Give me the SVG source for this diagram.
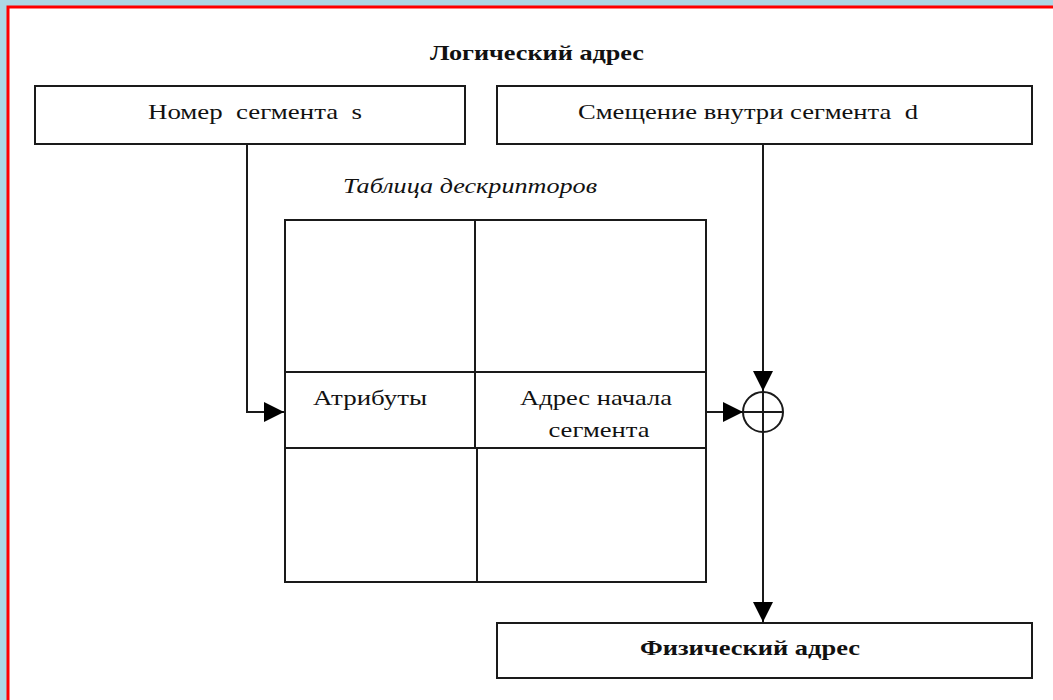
<svg xmlns="http://www.w3.org/2000/svg" width="1053" height="700" viewBox="0 0 1053 700">
  <style>
    .box { fill: #ffffff; stroke: #1a1a1a; stroke-width: 2; }
    .grid { fill: none; stroke: #1a1a1a; stroke-width: 2; }
    .wire { fill: none; stroke: #1a1a1a; stroke-width: 2; }
    .txt { font-family: "Liberation Serif", "Times New Roman", serif; font-size: 21px; fill: #111; }
    .big { font-size: 22px; }
    .bold { font-weight: bold; }
    .ital { font-style: italic; }
  </style>
  <defs>
    <marker id="arrow" viewBox="0 0 20 20" refX="20" refY="10" markerWidth="20" markerHeight="20" markerUnits="userSpaceOnUse" orient="auto">
      <path d="M0,0 L20,10 L0,20 Z" fill="#000"/>
    </marker>
  </defs>

  <!-- page frame -->
  <rect x="0" y="0" width="1053" height="700" fill="#add8e6"/>
  <rect x="8" y="7" width="1060" height="710" fill="#ffffff" stroke="#ff0000" stroke-width="3"/>

  <!-- heading -->
  <text class="txt bold" x="537" y="60" text-anchor="middle" textLength="214" lengthAdjust="spacingAndGlyphs">Логический адрес</text>

  <g id="segment-number">
    <rect class="box" x="35" y="86" width="430" height="58"/>
    <text class="txt big" x="148" y="119" textLength="214" lengthAdjust="spacingAndGlyphs" xml:space="preserve">Номер  сегмента  s</text>
  </g>

  <g id="segment-offset">
    <rect class="box" x="497" y="86" width="535" height="58"/>
    <text class="txt big" x="578" y="119" textLength="340" lengthAdjust="spacingAndGlyphs" xml:space="preserve">Смещение внутри сегмента  d</text>
  </g>

  <g id="descriptor-table">
    <text class="txt ital" x="343" y="193" textLength="254" lengthAdjust="spacingAndGlyphs">Таблица дескрипторов</text>
    <rect class="grid" x="285" y="220" width="421" height="362"/>
    <line class="grid" x1="475" y1="220" x2="475" y2="448"/>
    <line class="grid" x1="477" y1="448" x2="477" y2="582"/>
    <line class="grid" x1="285" y1="372" x2="706" y2="372"/>
    <line class="grid" x1="285" y1="448" x2="706" y2="448"/>
    <text class="txt" x="313" y="405" textLength="114" lengthAdjust="spacingAndGlyphs">Атрибуты</text>
    <text class="txt" x="596" y="405" text-anchor="middle" textLength="152" lengthAdjust="spacingAndGlyphs">Адрес начала</text>
    <text class="txt" x="599" y="437" text-anchor="middle" textLength="101" lengthAdjust="spacingAndGlyphs">сегмента</text>
  </g>

  <g id="adder">
    <circle cx="763" cy="412" r="20" fill="none" stroke="#1a1a1a" stroke-width="2"/>
    <line class="wire" x1="743" y1="412" x2="783" y2="412"/>
  </g>

  <g id="physical-address">
    <rect class="box" x="497" y="623" width="535" height="55"/>
    <text class="txt bold" x="640" y="655" textLength="220" lengthAdjust="spacingAndGlyphs">Физический адрес</text>
  </g>

  <g id="connectors">
    <!-- segment number into the table row -->
    <path class="wire" d="M247,144 V412 H284" marker-end="url(#arrow)"/>
    <!-- segment base into the adder -->
    <line class="wire" x1="706" y1="412" x2="743" y2="412" marker-end="url(#arrow)"/>
    <!-- offset into the adder -->
    <line class="wire" x1="763" y1="144" x2="763" y2="391" marker-end="url(#arrow)"/>
    <!-- adder output to physical address -->
    <line class="wire" x1="763" y1="391" x2="763" y2="622" marker-end="url(#arrow)"/>
  </g>
</svg>
